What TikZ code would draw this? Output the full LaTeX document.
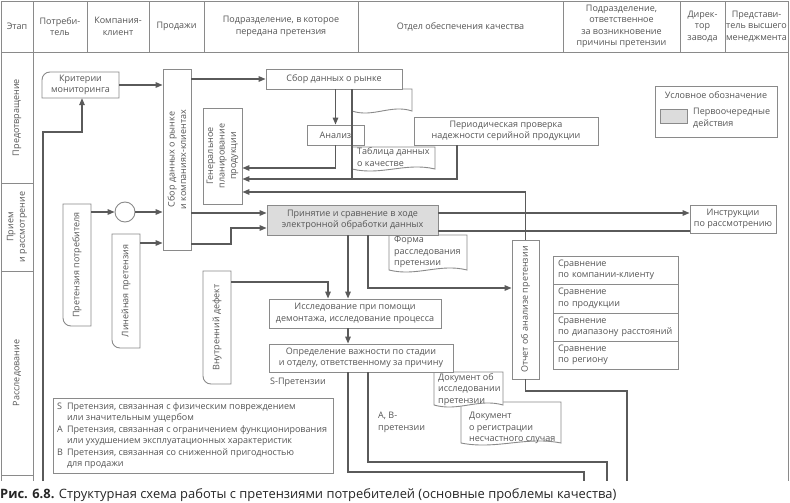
\documentclass[tikz,border=0pt]{standalone}
\usepackage{fontspec}
\setmainfont{Open Sans}
\usetikzlibrary{arrows.meta,calc}
\definecolor{txt}{HTML}{555555}
\definecolor{lnb}{HTML}{8A8A8A}
\definecolor{lnc}{HTML}{5A5A5A}
\definecolor{prio}{HTML}{DCDCDC}
\newcommand\fs{\fontsize{9}{11.5}\selectfont}
\tikzset{
 shp/.style={draw=lnb, line width=0.9pt, fill=white},
 box/.style={shp, rectangle, text=txt, font=\fs, align=center, inner sep=0pt},
 frame/.style={rectangle, draw=none, inner sep=0pt},
 lbl/.style={text=txt, font=\fs, align=center, inner sep=0pt},
 lbll/.style={text=txt, font=\fs, align=left, inner sep=0pt, anchor=north west},
 conn/.style={draw=lnc, line width=1.3pt, -{Triangle[length=7pt,width=5.5pt]}},
 plain/.style={draw=lnc, line width=1.3pt},
 grid/.style={draw=lnb, line width=0.9pt},
}
\newcommand\mydoc[4]{\path[shp] (#1,#2) -- (#3,#2) -- (#3,#4) .. controls ({#1+0.65*(#3-#1)},{#4-7}) and ({#1+0.35*(#3-#1)},{#4+7}) .. (#1,#4) -- cycle;}
\newcommand\mycardbl[4]{\path[shp] (#1,#2) -- (#3,#2) -- (#3,#4) -- ({#1+8},#4) .. controls ({#1+3.5},#4) and (#1,{#4-3.5}) .. (#1,{#4-8}) -- cycle;}
\newcommand\mycardtl[4]{\path[shp] (#1,#4) -- (#1,{#2+8}) .. controls (#1,{#2+3.5}) and ({#1+3.5},#2) .. ({#1+8},#2) -- (#3,#2) -- (#3,#4) -- cycle;}
\begin{document}
\begin{tikzpicture}[x=1pt,y=-1pt]
\useasboundingbox (0,0) rectangle (790,503);
\fill[white] (0,0) rectangle (790,503);
% header
\node[box, minimum width=32pt, minimum height=51pt] (h1) at (17,26.5) {Этап};
\node[box, minimum width=54pt, minimum height=51pt] (h2) at (60,26.5) {Потреби-\\тель};
\node[box, minimum width=62pt, minimum height=51pt] (h3) at (118,26.5) {Компания-\\клиент};
\node[box, minimum width=55pt, minimum height=51pt] (h4) at (176.5,26.5) {Продажи};
\node[box, minimum width=154pt, minimum height=51pt] (h5) at (281,26.5) {Подразделение, в которое\\передана претензия};
\node[box, minimum width=205pt, minimum height=51pt] (h6) at (460.5,26.5) {Отдел обеспечения качества};
\node[box, minimum width=117pt, minimum height=51pt] (h7) at (621.5,26.5) {Подразделение,\\ответственное\\за возникновение\\причины претензии};
\node[box, minimum width=45pt, minimum height=51pt] (h8) at (702.5,26.5) {Дирек-\\тор\\завода};
\node[box, minimum width=63pt, minimum height=51pt] (h9) at (756.5,26.5) {Представи-\\тель высшего\\менеджмента};
% stage column
\node[box, minimum width=32pt, minimum height=131pt] (s1) at (17,117.5) {};
\node[lbl, rotate=90] (s1t) at (s1) {Предотвращение};
\node[box, minimum width=32pt, minimum height=88pt] (s2) at (17,227) {};
\node[lbl, rotate=90] (s2t) at (s2) {Прием\\и рассмотрение};
\node[box, minimum width=32pt, minimum height=204pt] (s3) at (17,373) {};
\node[lbl, rotate=90] (s3t) at (s3) {Расследование};
\draw[grid] (1,475) -- (1,481) (33,475) -- (33,481);
\draw[grid] (788,52) -- (788,481);
% legend
\node[box, minimum width=122pt, minimum height=51pt] (leg) at (716,111.5) {};
\node[lbl] (legt) at (716,95) {Условное обозначение};
\node[box, fill=prio, minimum width=27pt, minimum height=14pt] (legs) at (673.5,116) {};
\node[lbll] (legd) at (693,108) {Первоочередные\\действия};
% documents
\mydoc{352}{89}{412}{111}
\mydoc{352}{147}{435}{169}
\node[lbll] (tablt) at (357,147.5) {Таблица данных\\о качестве};
\mydoc{389}{235}{467}{270}
\node[lbll] (formt) at (394,236) {Форма\\расследования\\претензии};
\mydoc{461}{402}{561}{443}
\node[lbll] (regt) at (469,412) {Документ\\о регистрации\\несчастного случая};
\mydoc{434}{372}{503}{405}
\node[lbll] (isst) at (438,373) {Документ об\\исследовании\\претензии};
% cards
\mycardtl{42}{72}{119}{98}
\node[frame, minimum width=77pt, minimum height=26pt] (krit) at (80.5,85) {};
\node[lbl] (kritt) at (krit) {Критерии\\мониторинга};
\mycardbl{63}{204}{91}{326}
\node[frame, minimum width=28pt, minimum height=122pt] (pretp) at (77,265) {};
\node[lbl, rotate=90] (pretpt) at (pretp) {Претензия потребителя};
\mycardbl{112}{234}{140}{348}
\node[frame, minimum width=28pt, minimum height=114pt] (linp) at (126,291) {};
\node[lbl, rotate=90] (linpt) at (linp) {Линейная претензия};
\mycardbl{203}{271}{231}{384}
\node[frame, minimum width=28pt, minimum height=113pt] (vnutr) at (217,327.5) {};
\node[lbl, rotate=90] (vnutrt) at (vnutr) {Внутренний дефект};
% boxes
\node[box, minimum width=28pt, minimum height=181pt] (sbor) at (177,159.5) {};
\node[lbl, rotate=90] (sbort) at (sbor) {Сбор данных о рынке\\и компаниях-клиентах};
\node[box, minimum width=39pt, minimum height=96pt] (gen) at (222.5,156) {};
\node[lbl, rotate=90] (gent) at (gen) {Генеральное\\планирование\\продукции};
\node[box, circle, minimum size=20pt] (circ) at (125,212) {};
\node[box, minimum width=136pt, minimum height=20pt] (sborr) at (334,79) {Сбор данных о рынке};
\node[box, minimum width=57pt, minimum height=20pt] (analiz) at (335.5,135) {Анализ};
\node[box, minimum width=184pt, minimum height=28pt] (period) at (506,131) {Периодическая проверка\\надежности серийной продукции};
\node[box, fill=prio, minimum width=171pt, minimum height=30pt] (prin) at (352.5,220) {Принятие и сравнение в ходе\\электронной обработки данных};
\node[box, minimum width=86pt, minimum height=28pt] (instr) at (733,219) {Инструкции\\по рассмотрению};
\node[box, minimum width=172pt, minimum height=29pt] (issl) at (355,313.5) {Исследование при помощи\\демонтажа, исследование процесса};
\node[box, minimum width=184pt, minimum height=28pt] (opred) at (361,358) {Определение важности по стадии\\и отделу, ответственному за причину};
\node[box, minimum width=27pt, minimum height=139pt] (otch) at (525.5,309.5) {};
\node[lbl, rotate=90] (otcht) at (otch) {Отчет об анализе претензии};
\node[box, minimum width=125pt, minimum height=28pt, text width=115pt, align=left] (c1) at (615.5,270) {Сравнение\\по компании-клиенту};
\node[box, minimum width=125pt, minimum height=29pt, text width=115pt, align=left] (c2) at (615.5,298.5) {Сравнение\\по продукции};
\node[box, minimum width=125pt, minimum height=28pt, text width=115pt, align=left] (c3) at (615.5,327) {Сравнение\\по диапазону расстояний};
\node[box, minimum width=125pt, minimum height=28pt, text width=115pt, align=left] (c4) at (615.5,355) {Сравнение\\по региону};
% notes
\node[box, minimum width=280pt, minimum height=75pt] (notes) at (193,435.5) {};
\node[lbl, anchor=west, align=left] (notest) at (57,435.5) {\begin{tabular}{@{}l@{\hspace{4pt}}l@{}}
S & Претензия, связанная с физическим повреждением\\
 & или значительным ущербом\\
А & Претензия, связанная с ограничением функционирования\\
 & или ухудшением эксплуатационных характеристик\\
В & Претензия, связанная со сниженной пригодностью\\
 & для продажи
\end{tabular}};
\node[lbl, anchor=west] (slab) at (270,382) {S-Претензии};
\node[lbll] (ablab) at (378,412) {А, В-\\претензии};
% free ends
\coordinate (e0) at (43,481);
\coordinate (e1) at (584,481);
\coordinate (e2) at (607,481);
\coordinate (e3) at (627,481);
% connectors
\draw[conn] (e0) -- (43,132) -| (krit.south -| 82,0);
\draw[conn] (krit.east) -- (krit.east -| sbor.west);
\draw[conn] (sbor.east |- sborr) -- (sborr.west);
\draw[conn] (sborr.south -| analiz) -- (analiz.north);
\draw[conn] (analiz.south) |- (gen.east |- 0,168);
\draw[plain] (sborr.south -| 352,0) -- (352,179);
\draw[conn] (period.south -| 457,0) |- (gen.east |- 0,179);
\draw[conn] (otch.north) |- (gen.east |- 0,192);
\draw[conn] (pretp.east |- circ) -- (circ.west);
\draw[conn] (circ.east) -- (circ.east -| sbor.west);
\draw[conn] (linp.east |- 0,243) -- (sbor.west |- 0,243);
\draw[conn] (sbor.east |- 0,213) -- (prin.west |- 0,213);
\draw[conn] (sbor.east |- 0,244) -- (231,244) -- (231,228) -- (prin.west |- 0,228);
\draw[conn] (prin.east |- 0,213) -- (instr.west |- 0,213);
\draw[plain] (prin.east |- 0,231) -- (instr.west |- 0,231);
\draw[conn] (prin.south -| 348,0) -- (issl.north -| 348,0);
\draw[conn] (prin.south -| 368,0) |- (otch.west |- 0,288);
\draw[conn] (vnutr.east |- 0,282) -| (issl.north -| 328,0);
\draw[conn] (issl.south -| 348,0) -- (opred.north -| 348,0);
\draw[plain] (opred.south -| 348,0) |- (584,472) -- (e1);
\draw[plain] (opred.south -| 368,0) |- (607,462) -- (e2);
\draw[plain] (otch.south) |- (627,391) -- (e3);
% caption
\node[anchor=base west, inner sep=0pt, font=\fontsize{12.9}{15}\selectfont, text=black!85] (cap) at (0,498) {\textbf{Рис. 6.8.} Структурная схема работы с претензиями потребителей (основные проблемы качества)};
\end{tikzpicture}
\end{document}
